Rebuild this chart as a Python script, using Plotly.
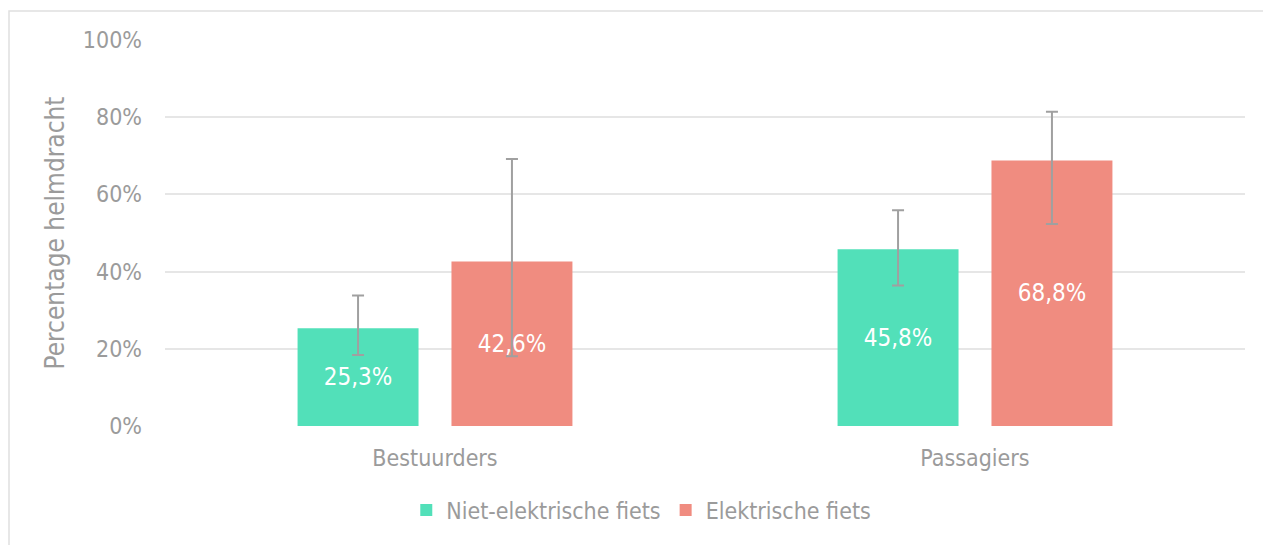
import plotly.graph_objects as go

categories = ["Bestuurders", "Passagiers"]
series_names = ["Niet-elektrische fiets", "Elektrische fiets"]
niet_values = [25.3, 45.8]
niet_upper = [33.8, 55.9]
niet_lower = [18.4, 36.4]
elek_values = [42.6, 68.8]
elek_upper = [69.2, 81.4]
elek_lower = [18.1, 52.3]
y_ticks = [0, 20, 40, 60, 80, 100]

colors = ["#52E0B9", "#F08C80"]
grey = "#9b9b9b"
font_family = "DejaVu Sans Condensed, DejaVu Sans"

# figure geometry (page is offset by 8px body margin)
W, H = 1263, 537
ML, MR, MT = 157, 26, 32
PW = W - ML - MR
PH = 386
MB = H - MT - PH


def fmt(v):
    return f"{v:.1f}".replace(".", ",") + "%"


fig = go.Figure()
for name, vals, up, lo, col in [
    (series_names[0], niet_values, niet_upper, niet_lower, colors[0]),
    (series_names[1], elek_values, elek_upper, elek_lower, colors[1]),
]:
    fig.add_trace(go.Bar(
        name=name,
        x=categories,
        y=vals,
        marker=dict(color=col, line=dict(width=0)),
        text=[fmt(v) for v in vals],
        textposition="inside",
        insidetextanchor="middle",
        textfont=dict(color="white", size=24, family=font_family),
        error_y=dict(
            type="data",
            symmetric=False,
            array=[u - v for u, v in zip(up, vals)],
            arrayminus=[v - l for l, v in zip(lo, vals)],
            color="#a0a0a0",
            thickness=2,
            width=6,
        ),
    ))

fig.update_layout(
    width=W,
    height=H,
    margin=dict(l=ML, r=MR, t=MT, b=MB, pad=0),
    paper_bgcolor="white",
    plot_bgcolor="white",
    barmode="group",
    bargap=0.43,
    bargroupgap=0.214,
    font=dict(family=font_family, color=grey, size=23),
    showlegend=True,
    legend=dict(
        orientation="h",
        x=0.441,
        xanchor="center",
        y=(PH - 502 + MT) / PH,
        yanchor="middle",
        font=dict(size=23, color=grey),
        traceorder="normal",
        itemwidth=30,
    ),
    yaxis=dict(
        range=[0, 100],
        tickvals=y_ticks,
        ticktext=[f"{t}%" for t in y_ticks],
        showgrid=True,
        gridcolor="#e6e6e6",
        gridwidth=1.5,
        zeroline=False,
        showline=False,
        ticks="",
        ticklabelstandoff=22,
        tickfont=dict(size=23, color=grey),
        title=dict(text="Percentage helmdracht", font=dict(size=26, color=grey), standoff=10),
    ),
    xaxis=dict(
        showgrid=False,
        showline=False,
        zeroline=False,
        ticks="",
        ticklabelstandoff=16,
        tickfont=dict(size=23, color=grey),
    ),
    shapes=[dict(
        type="rect",
        xref="paper", yref="paper",
        x0=(1 - ML) / PW, x1=(1262 - ML) / PW,
        y0=(MT + PH - 560) / PH, y1=(MT + PH - 3) / PH,
        line=dict(color="#e0e0e0", width=1.5),
        fillcolor="rgba(0,0,0,0)",
        layer="below",
    )],
)

fig.write_html("out.html")
